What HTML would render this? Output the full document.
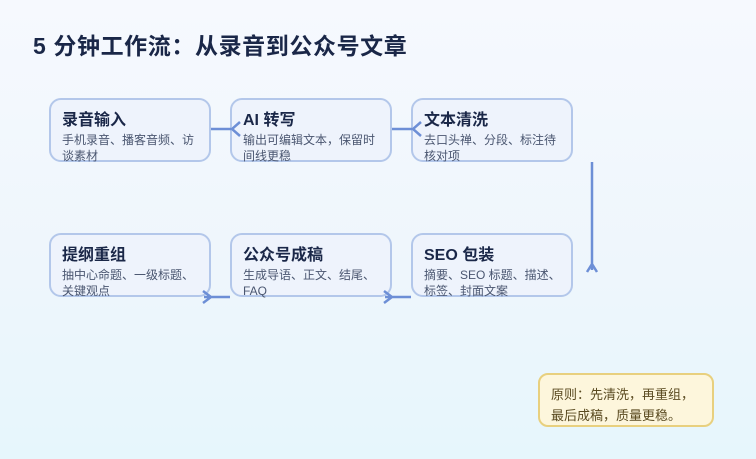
<!DOCTYPE html>
<html><head><meta charset="utf-8"><style>
*{margin:0;padding:0;box-sizing:border-box}
body{width:756px;height:459px;overflow:hidden;position:relative;font-family:"Liberation Sans","Noto Sans CJK SC",sans-serif;background:linear-gradient(180deg,#f6f9fe 0%,#eef6fc 60%,#e6f6fc 100%)}
.t{position:absolute;left:33px;top:27px;font-size:23px;font-weight:bold;color:#1a2748;white-space:nowrap;letter-spacing:0.6px}
.b{position:absolute;width:162px;height:64px;border:2px solid #b3c7ea;border-radius:12px;background:#eef3fc;padding:10px 0 0 11px;overflow:visible}
.b h{display:block;font-size:16px;font-weight:bold;color:#1a2748;line-height:22px}
.b p{font-size:12px;color:#4a5670;line-height:16px;width:142px}
.n{position:absolute;left:538px;top:373px;width:176px;height:54px;border:2px solid #e8d07e;border-radius:10px;background:#fdf6dc;padding:9px 0 0 11px;font-size:13px;color:#5a4a20;line-height:21px}
svg{position:absolute;left:0;top:0}
</style></head><body>
<div class="t">5 分钟工作流：从录音到公众号文章</div>
<div class="b" style="left:49px;top:98px"><h>录音输入</h><p>手机录音、播客音频、访谈素材</p></div>
<div class="b" style="left:230px;top:98px"><h>AI 转写</h><p>输出可编辑文本，保留时间线更稳</p></div>
<div class="b" style="left:411px;top:98px"><h>文本清洗</h><p>去口头禅、分段、标注待核对项</p></div>
<div class="b" style="left:49px;top:233px"><h>提纲重组</h><p>抽中心命题、一级标题、关键观点</p></div>
<div class="b" style="left:230px;top:233px"><h>公众号成稿</h><p>生成导语、正文、结尾、FAQ</p></div>
<div class="b" style="left:411px;top:233px"><h>SEO 包装</h><p>摘要、SEO 标题、描述、标签、封面文案</p></div>
<div class="n">原则：先清洗，再重组，<br>最后成稿，质量更稳。</div>
<svg width="756" height="459" fill="none" stroke="#6d8fd6" stroke-width="2.5">
<path d="M211 129H231M240 122L232 129L240 136"/>
<path d="M392 129H412M421 122L413 129L421 136"/>
<path d="M592 162V270M587 272L592 264L597 272"/>
<path d="M204 297H230M203 291L211 297L203 303"/>
<path d="M385 297H411M384 291L392 297L384 303"/>
</svg>
</body></html>
